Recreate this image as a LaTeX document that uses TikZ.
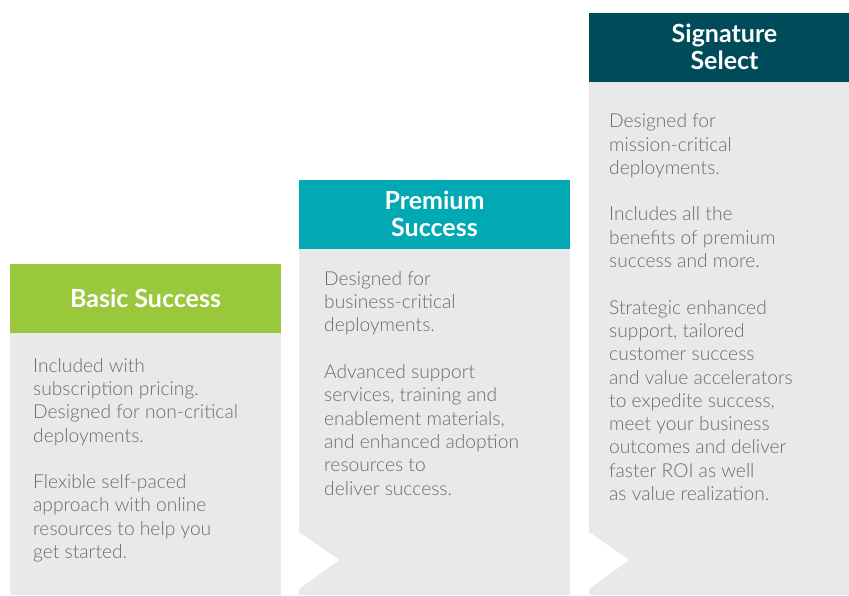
\documentclass[tikz,border=0pt]{standalone}
\usepackage{fontspec}
\setmainfont{Lato}
\newfontfamily\lightfont{Lato Light}
\usetikzlibrary{positioning}
\definecolor{basicgreen}{HTML}{9AC83D}
\definecolor{premiumteal}{HTML}{00A9B4}
\definecolor{signaturedark}{HTML}{004B59}
\definecolor{bodygrey}{HTML}{E9E9E9}
\definecolor{textgrey}{HTML}{6B6B6B}

\begin{document}
\begin{tikzpicture}[x=1pt,y=-1pt]
            \tikzstyle{every node}+=[inner sep=0pt]
            \tikzstyle{head}=[text=white, minimum width=271pt, minimum height=69pt, align=center, font=\fontsize{25}{27}\selectfont\bfseries]
            \tikzstyle{panel}=[fill=bodygrey, minimum width=271pt, anchor=north]
            \tikzstyle{blurb}=[anchor=base west, align=left, text=textgrey, font=\lightfont\fontsize{19.2}{23.3}\selectfont]
            \useasboundingbox (0,0) rectangle (849,595);
            % headers
            \node [head, fill=basicgreen] (basic) at (145.5,298) {Basic Success};
            \node [head, fill=premiumteal] (premium) at (434.5,214) {Premium\\Success};
            \node [head, fill=signaturedark] (signature) at (724.5,47) {Signature\\Select};
            % grey bodies
            \node [panel, minimum height=262pt, below=0pt of basic] (basicbody) {};
            \node [panel, minimum height=346pt, below=0pt of premium] (premiumbody) {};
            \node [panel, minimum height=513pt, below=0pt of signature] (signaturebody) {};
            % white notches
            \fill [white] (299,532) -- (339,560) -- (299,589) -- cycle;
            \fill [white] (589,532) -- (629,560) -- (589,589) -- cycle;
            % texts (placed by the baseline of their last line)
            \node [blurb] (basictext) at (33,558.5) {Included with\\subscription pricing.\\Designed for non-critical\\deployments.\\[23.3pt]Flexible self-paced\\approach with online\\resources to help you\\get started.};
            \node [blurb] (premiumtext) at (324,495) {Designed for\\business-critical\\deployments.\\[23.3pt]Advanced support\\services, training and\\enablement materials,\\and enhanced adoption\\resources to\\deliver success.};
            \node [blurb] (signaturetext) at (609,500.5) {Designed for\\mission-critical\\deployments.\\[23.3pt]Includes all the\\benefits of premium\\success and more.\\[23.3pt]Strategic enhanced\\support, tailored\\customer success\\and value accelerators\\to expedite success,\\meet your business\\outcomes and deliver\\faster ROI as well\\as value realization.};
\end{tikzpicture}
\end{document}
